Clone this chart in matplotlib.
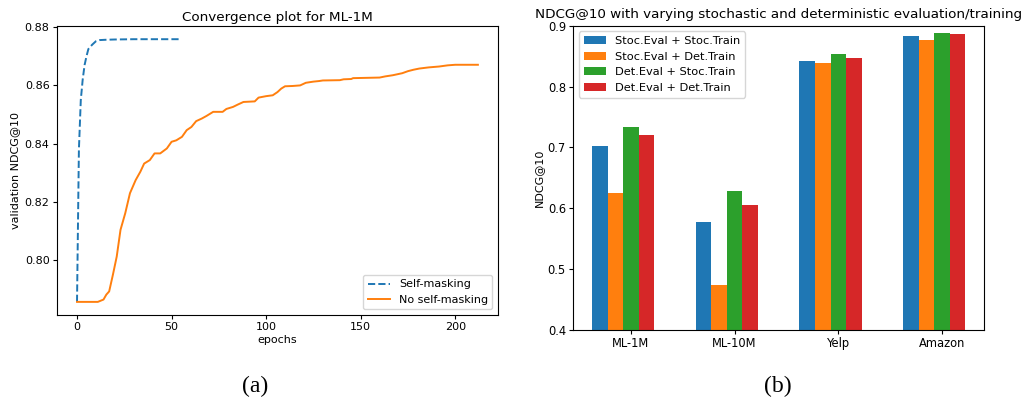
import matplotlib
matplotlib.use("Agg")
import matplotlib.pyplot as plt
import numpy as np

# convergence curves
sm_epochs = [0, 1, 2, 3, 4, 5, 6, 8, 10, 12, 15, 20, 30, 40, 54]
sm_ndcg = [0.7855, 0.838, 0.855, 0.862, 0.867, 0.870, 0.8725, 0.874, 0.8752, 0.8756,
           0.8757, 0.8758, 0.8759, 0.8759, 0.8759]

nsm_epochs = [0, 11, 14, 15.5, 17, 19, 21, 23, 25.5, 28, 31, 33.5, 35.5, 38.5, 41, 44,
              47.5, 50, 52.5, 55.5, 58, 60.5, 63, 66, 68.5, 72, 77, 79, 82.5, 85, 88,
              94, 96, 100, 103.5, 106, 108, 110, 114, 118, 121, 125, 128, 130, 139,
              141, 145, 146, 160, 163, 167, 172, 175, 178, 181, 186, 191.5, 196, 200,
              212]
nsm_ndcg = [0.7855, 0.7855, 0.7863, 0.788, 0.7891, 0.7949, 0.8011, 0.8103, 0.816, 0.8229,
            0.8274, 0.8303, 0.8331, 0.8343, 0.8366, 0.8366, 0.8383, 0.8406, 0.8411,
            0.8423, 0.8446, 0.8457, 0.8477, 0.8486, 0.8495, 0.8509, 0.8509, 0.8519,
            0.8526, 0.8534, 0.8543, 0.8545, 0.8558, 0.8563, 0.8566, 0.8577, 0.8589,
            0.8597, 0.8598, 0.86, 0.8609, 0.8613, 0.8615, 0.8617, 0.8618, 0.8621,
            0.8622, 0.8625, 0.8627, 0.8631, 0.8635, 0.8642, 0.8649, 0.8654, 0.8658,
            0.8662, 0.8665, 0.8669, 0.8671, 0.8671]

# bar chart
datasets = ["ML-1M", "ML-10M", "Yelp", "Amazon"]
settings = ["Stoc.Eval + Stoc.Train", "Stoc.Eval + Det.Train",
            "Det.Eval + Stoc.Train", "Det.Eval + Det.Train"]
stoc_stoc = [0.702, 0.577, 0.842, 0.883]
stoc_det = [0.625, 0.474, 0.839, 0.876]
det_stoc = [0.733, 0.628, 0.853, 0.888]
det_det = [0.720, 0.605, 0.847, 0.886]

plt.rcParams["axes.linewidth"] = 0.8

fig = plt.figure(figsize=(10.21, 3.98), dpi=100)

ax1 = fig.add_axes([0.0558, 0.2085, 0.4319, 0.726])
ax1.plot(sm_epochs, sm_ndcg, "--", color="#1f77b4", lw=1.4, label="Self-masking")
ax1.plot(nsm_epochs, nsm_ndcg, "-", color="#ff7f0e", lw=1.4, label="No self-masking")
ax1.set_yticks([0.80, 0.82, 0.84, 0.86, 0.88])
ax1.set_xticks([0, 50, 100, 150, 200])
ax1.set_xlabel("epochs", fontsize=8, labelpad=2)
ax1.set_ylabel("validation NDCG@10", fontsize=8, labelpad=3)
ax1.set_title("Convergence plot for ML-1M", fontsize=9.7, pad=4)
ax1.legend(loc="lower right", fontsize=8)
ax1.tick_params(labelsize=8, length=2.8, width=0.8, pad=2.5)

ax2 = fig.add_axes([0.5615, 0.1709, 0.4023, 0.7646])
x = np.arange(len(datasets))
w = 0.15
series = [stoc_stoc, stoc_det, det_stoc, det_det]
colors = ["#1f77b4", "#ff7f0e", "#2ca02c", "#d62728"]
for i, (vals, lab, c) in enumerate(zip(series, settings, colors)):
    ax2.bar(x + (i - 2) * w, vals, w, color=c, label=lab)
ax2.set_ylim(0.4, 0.9)
ax2.set_xticks(x)
ax2.set_xticklabels(datasets)
ax2.set_ylabel("NDCG@10", fontsize=8, labelpad=3)
ax2.set_title("NDCG@10 with varying stochastic and deterministic evaluation/training",
              fontsize=9.7, pad=5.5)
ax2.legend(loc="upper left", fontsize=8.2)
ax2.tick_params(labelsize=8.3, length=2.8, width=0.8, pad=2.5)

fig.text(0.2495, 0.028, "(a)", ha="center", va="center", fontsize=17,
         family=["Liberation Serif", "DejaVu Serif"])
fig.text(0.762, 0.028, "(b)", ha="center", va="center", fontsize=17,
         family=["Liberation Serif", "DejaVu Serif"])

fig.savefig("out.png", dpi=100)
